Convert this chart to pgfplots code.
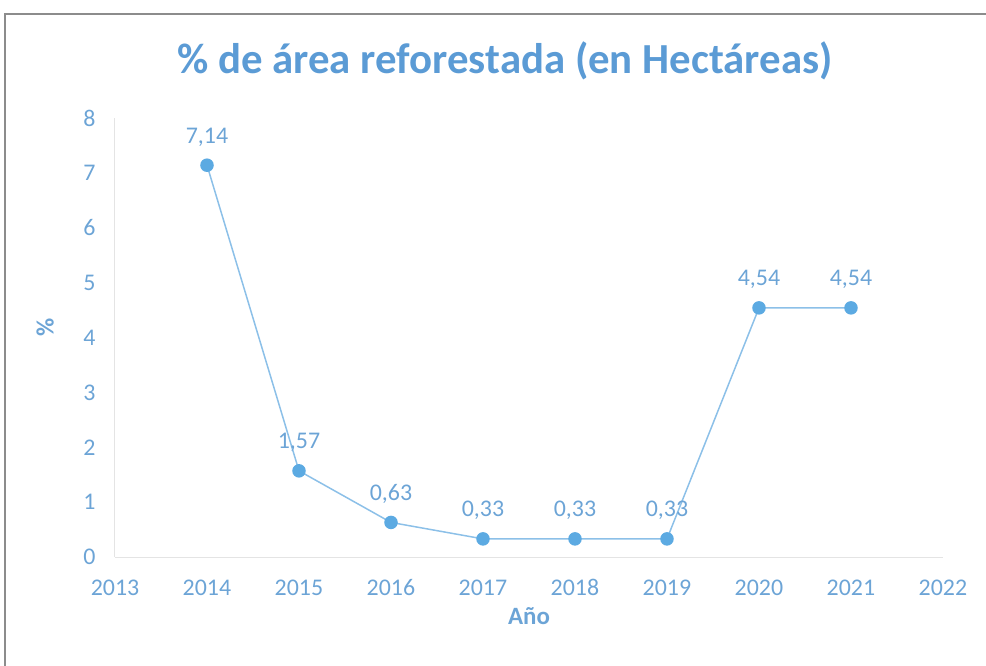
\documentclass[border=0pt]{standalone}
\usepackage{pgfplots}
\pgfplotsset{compat=1.18}
\usepackage{fontspec}
\setmainfont{Carlito}
\definecolor{titleblue}{RGB}{91,155,213}
\definecolor{tickblue}{RGB}{108,164,214}
\definecolor{lineblue}{RGB}{140,192,232}
\definecolor{markblue}{RGB}{92,170,226}
\definecolor{axgray}{RGB}{228,228,228}
\definecolor{framegray}{RGB}{140,140,140}
\begin{document}
\begin{tikzpicture}
\useasboundingbox (-115bp,-109bp) rectangle (871bp,557bp);
\draw[color=framegray, line width=1.5bp] (-110bp,-109bp) -- (-110bp,543bp) -- (871bp,543bp);
\begin{axis}[
  at={(0,0)}, anchor=south west,
  scale only axis, width=828bp, height=439bp,
  xmin=2013, xmax=2022, ymin=0, ymax=8,
  xtick={2013,2014,...,2022}, ytick={0,1,...,8},
  /pgf/number format/1000 sep={},
  /pgf/number format/assume math mode=true,
  tick style={draw=none},
  axis lines*=left,
  axis line style={draw=axgray, line width=1bp},
  ticklabel style={font=\fontsize{24}{24}\selectfont, text=tickblue},
  xticklabel style={yshift=-19bp},
  yticklabel style={xshift=-16bp},
  xlabel={Año}, ylabel={\%},
  label style={font=\bfseries\fontsize{25}{25}\selectfont, text=tickblue},
  xlabel style={at={(axis description cs:0.5,-0.134)}, anchor=center},
  ylabel style={at={(axis description cs:-0.0845,0.524)}, anchor=center},
  title={\% de área reforestada (en Hectáreas)},
  title style={at={(axis description cs:0.471,1)}, anchor=center, yshift=51bp,
    font=\bfseries\fontsize{43}{43}\selectfont, text=titleblue},
  clip=false,
]
\addplot[color=lineblue, line width=1.5bp, mark=*, mark size=6bp,
  mark options={fill=markblue, draw=markblue},
  nodes near coords, point meta=explicit symbolic,
  every node near coord/.append style={font=\fontsize{24}{24}\selectfont, text=tickblue, anchor=south, yshift=15bp}]
  table[meta=lab] {
x y lab
2014 7.14 {7,14}
2015 1.57 {1,57}
2016 0.63 {0,63}
2017 0.33 {0,33}
2018 0.33 {0,33}
2019 0.33 {0,33}
2020 4.54 {4,54}
2021 4.54 {4,54}
};
\end{axis}
\end{tikzpicture}
\end{document}
